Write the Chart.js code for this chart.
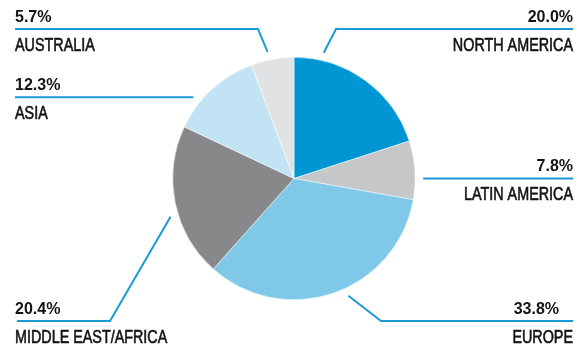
<!DOCTYPE html>
<html lang="en">
<head>
  <meta charset="UTF-8" />
  <title>Revenue by Region</title>
  <script src="https://cdn.jsdelivr.net/npm/chart.js"></script>
  <style>
    body {
      margin: 0;
      background: #ffffff;
    }
    .chart-box {
      position: relative;
      width: 581px;
      height: 345px;
    }
  </style>
</head>
<body>
  <div class="chart-box">
    <canvas id="regionChart"></canvas>
  </div>

  <script>
    // slices, clockwise from 12 o'clock
    const regions = ['NORTH AMERICA', 'LATIN AMERICA', 'EUROPE', 'MIDDLE EAST/AFRICA', 'ASIA', 'AUSTRALIA'];
    const shares = [20.0, 7.8, 33.8, 20.4, 12.3, 5.7];
    const sliceColors = ['#0095d3', '#c6c7c9', '#7fc8e8', '#87888a', '#c1e3f4', '#e1e2e4'];

    // callout placement: angle (deg from top, clockwise) where the leader starts,
    // the y of the horizontal rule, where it bends, and where it ends
    const callouts = [
      { angle: 13.3,   lineY: 29,   bendX: 336,  endX: 573, side: 'right' },
      { angle: 90,     lineY: null, bendX: null, endX: 573, side: 'right' },
      { angle: 155.1,  lineY: 321,  bendX: 381,  endX: 573, side: 'right', pctRight: 559 },
      { angle: 252.8,  lineY: 321,  bendX: 110,  endX: 17,  side: 'left' },
      { angle: 308.9,  lineY: null, bendX: null, endX: 15,  side: 'left' },
      { angle: 348.2,  lineY: 29,   bendX: 258,  endX: 15,  side: 'left' }
    ];

    const leaderColor = '#1a9ad6';
    const textColor = '#141414';
    const pctFont = 'bold 16px "Liberation Sans", Arial, sans-serif';
    const nameFont = '17.5px "Liberation Sans", Arial, sans-serif';
    const nameSqueeze = 0.82; // condensed look for region names

    function drawName(ctx, text, x, y, align) {
      ctx.save();
      ctx.font = nameFont;
      ctx.textAlign = align;
      ctx.translate(x, y);
      ctx.scale(nameSqueeze, 1);
      ctx.fillText(text, 0, 0);
      // a hairline stroke gives the names a slightly heavier weight
      ctx.strokeStyle = textColor;
      ctx.lineWidth = 0.6;
      ctx.strokeText(text, 0, 0);
      ctx.restore();
    }

    const calloutPlugin = {
      id: 'callouts',
      afterDraw(chart) {
        const arc = chart.getDatasetMeta(0).data[0];
        if (!arc) return;
        const { x: cx, y: cy, outerRadius } = arc.getProps(['x', 'y', 'outerRadius'], true);
        const ctx = chart.ctx;
        ctx.save();
        ctx.fillStyle = textColor;
        ctx.textBaseline = 'alphabetic';

        callouts.forEach((c, i) => {
          const a = c.angle * Math.PI / 180;
          const r = outerRadius + 8;
          const ax = cx + Math.sin(a) * r;
          const ay = cy - Math.cos(a) * r;
          const lineY = c.lineY === null ? ay : c.lineY;
          const bendX = c.bendX === null ? ax : c.bendX;

          ctx.strokeStyle = leaderColor;
          ctx.lineWidth = 2;
          ctx.beginPath();
          ctx.moveTo(ax, ay);
          ctx.lineTo(bendX, lineY);
          ctx.lineTo(c.endX, lineY);
          ctx.stroke();

          const pct = shares[i].toFixed(1) + '%';
          ctx.font = pctFont;
          if (c.side === 'right') {
            ctx.textAlign = 'right';
            ctx.fillText(pct, c.pctRight || c.endX, lineY - 7.5);
            drawName(ctx, regions[i], c.endX, lineY + 21.5, 'right');
          } else {
            ctx.textAlign = 'left';
            ctx.fillText(pct, 15, lineY - 7.5);
            drawName(ctx, regions[i], 15, lineY + 21.5, 'left');
          }
        });
        ctx.restore();
      }
    };

    new Chart(document.getElementById('regionChart'), {
      type: 'pie',
      data: {
        labels: regions,
        datasets: [{
          data: shares,
          backgroundColor: sliceColors,
          borderColor: '#ffffff',
          borderWidth: 0.5
        }]
      },
      options: {
        responsive: true,
        maintainAspectRatio: false,
        animation: false,
        layout: {
          padding: { top: 57, bottom: 45, left: 172, right: 165 }
        },
        plugins: {
          legend: { display: false },
          tooltip: { enabled: false }
        }
      },
      plugins: [calloutPlugin]
    });
  </script>
</body>
</html>
